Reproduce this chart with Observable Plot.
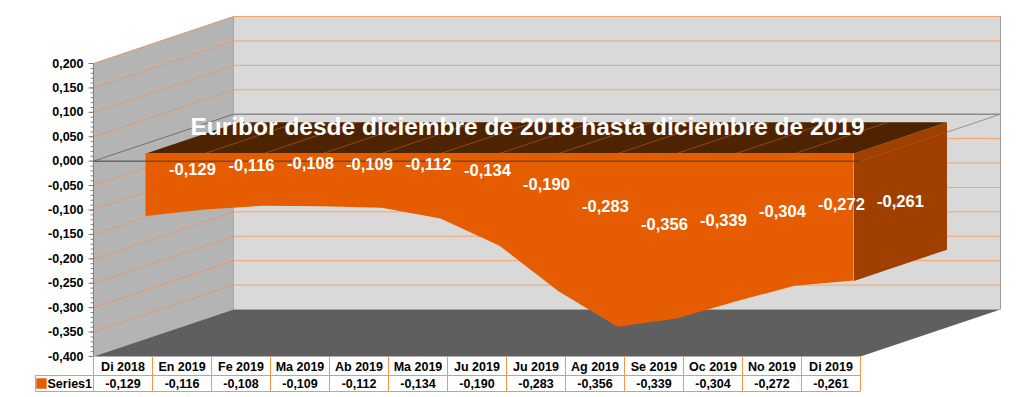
<!DOCTYPE html>
<html>
<head>
<meta charset="utf-8">
<script src="https://cdn.jsdelivr.net/npm/d3@7"></script>
<script src="https://cdn.jsdelivr.net/npm/@observablehq/plot@0.6"></script>
<style>
  html, body { margin: 0; padding: 0; background: #ffffff; }
  #chart svg { display: block; }
</style>
</head>
<body>
<div id="chart"></div>
<script>
// ---- Data ----
const categories = ["Di 2018","En 2019","Fe 2019","Ma 2019","Ab 2019","Ma 2019","Ju 2019","Ju 2019","Ag 2019","Se 2019","Oc 2019","No 2019","Di 2019"];
const values = [-0.129,-0.116,-0.108,-0.109,-0.112,-0.134,-0.190,-0.283,-0.356,-0.339,-0.304,-0.272,-0.261];
const seriesName = "Series1";
const yTicks = [-0.4,-0.35,-0.3,-0.25,-0.2,-0.15,-0.1,-0.05,0,0.05,0.1,0.15,0.2];
const yMinorTicks = d3.range(-40, 21).map(k => k / 100);
const titleText = "Euribor desde diciembre de 2018 hasta diciembre de 2019";

// ---- Geometry (3D oblique projection expressed in data units) ----
const W = 1024, H = 397;
const xDomain = [-0.5, categories.length - 0.5];
const yDomain = [-0.4, 0.2];
const xRange = [93, 860], yRange = [356, 63];
const pxX = (xRange[1] - xRange[0]) / (xDomain[1] - xDomain[0]); // px per category
const pxY = (yRange[0] - yRange[1]) / (yDomain[1] - yDomain[0]); // px per unit
const DX = 140 / pxX, DY = 47 / pxY;       // full depth offset
const dF = 23 / 140, dB = 116 / 140, dM = (dF + dB) / 2;
const P = (i, v, d) => ({x: i + d * DX, y: v + d * DY});
const fmt = v => v.toFixed(3).replace(".", ",");
const last = values.length - 1;
const x0 = xDomain[0], x1 = xDomain[1], yLo = yDomain[0], yHi = yDomain[1];

function poly(pts, fill, extra = {}) {
  return Plot.line(pts, {x: "x", y: "y", fill, stroke: "none", curve: "linear-closed", ...extra});
}
function seg(a, b, stroke, w = 1, extra = {}) {
  return Plot.link([{a, b}], {x1: d => d.a.x, y1: d => d.a.y, x2: d => d.b.x, y2: d => d.b.y, stroke, strokeWidth: w, ...extra});
}

const gridVals = yTicks.filter(t => t > yLo);
const rowY1 = yLo - 19 / pxY, rowY2 = yLo - 35 / pxY;
const legendX = x0 - 58 / pxX;

const marks = [
  // walls & floor
  poly([P(x0, yLo, 1), P(x1, yLo, 1), P(x1, yHi, 1), P(x0, yHi, 1)], "#d9d9d9"),
  poly([P(x0, yLo, 0), P(x0, yHi, 0), P(x0, yHi, 1), P(x0, yLo, 1)], "#b4b4b4"),
  // gridlines back wall
  Plot.link(gridVals, {x1: P(x0,0,1).x, x2: P(x1,0,1).x, y1: t => P(0,t,1).y, y2: t => P(0,t,1).y,
    stroke: t => t === 0 ? "#8c8c8c" : "#f2a46a", strokeWidth: t => t === 0 ? 1.5 : 1}),
  // gridlines left wall
  Plot.link(gridVals, {x1: P(x0,0,0).x, x2: P(x0,0,1).x, y1: t => P(0,t,0).y, y2: t => P(0,t,1).y,
    stroke: t => t === 0 ? "#6f6f6f" : "#e39a68", strokeWidth: 1}),
  seg(P(x0, yLo, 1), P(x0, yHi, 1), "#a8a8a8", 1),
  seg(P(x1, yLo, 1), P(x1, yHi, 1), "#9a9a9a", 1),
  poly([P(x0, yLo, 0), P(x1, yLo, 0), P(x1, yLo, 1), P(x0, yLo, 1)], "#5f5f5f"),
  // zero plane edge on the right
  seg(P(x1, 0, 0), P(x1, 0, 1), "#9a9a9a", 0.8),
  // area: right side face
  poly([P(last, 0, dF), P(last, 0, dB), P(last, values[last], dB), P(last, values[last], dF)], "#a04000"),
  // area: top face
  poly([P(0, 0, dF), P(last, 0, dF), P(last, 0, dB), P(0, 0, dB)], "#4e2400"),
  Plot.link(d3.range(1, last), {x1: i => P(i,0,dF).x, x2: i => P(i,0,dB).x, y1: P(0,0,dF).y, y2: P(0,0,dB).y,
    stroke: "#b8621e", strokeWidth: 0.6}),
  // area: front face
  Plot.areaY(values, {x: (d, i) => P(i, 0, dF).x, y1: P(0, 0, dF).y, y2: d => P(0, d, dF).y, fill: "#e65c00"}),
  // zero line on the front plane
  seg(P(x0, 0, 0), P(x1, 0, 0), "#404040", 1),
  seg(P(x1, 0, 0), P(x1, 0, 1), "#b07040", 0.6, {strokeOpacity: 0.6}),
  // y axis
  seg(P(x0, yLo, 0), P(x0, yHi, 0), "#7f7f7f", 1),
  Plot.link(yMinorTicks, {x1: x0 - 3 / pxX, x2: x0, y1: d => d, y2: d => d, stroke: "#7f7f7f", strokeWidth: 1}),
  Plot.link(yTicks, {x1: x0 - 5 / pxX, x2: x0, y1: d => d, y2: d => d, stroke: "#7f7f7f", strokeWidth: 1}),
  Plot.text(yTicks, {x: x0, y: d => d, dx: -10, text: fmt, textAnchor: "end", fontSize: 12.5, fontWeight: "bold", fill: "#000"}),
  // data labels
  Plot.text(values, {x: (d, i) => P(i, 0, dM).x, y: d => P(0, d / 2, dM).y, text: fmt,
    fill: "#ffffff", fontSize: 16.5, fontWeight: "bold"}),
  // title
  Plot.text([titleText], {frameAnchor: "top-left", lineAnchor: "middle", dx: 527, dy: 127, text: d => d, textAnchor: "middle",
    fill: "#ffffff", fontSize: 24.5, fontWeight: "bold"}),
  // data table
  Plot.ruleX(d3.range(0, categories.length + 1).map(i => i - 0.5), {y1: yLo, y2: rowY2, stroke: "#f79646", strokeWidth: 1}),
  Plot.link([rowY1, rowY2], {x1: legendX, x2: x1, y1: d => d, y2: d => d, stroke: "#f79646", strokeWidth: 1}),
  Plot.link([0], {x1: legendX, x2: legendX, y1: rowY1, y2: rowY2, stroke: "#f79646", strokeWidth: 1}),
  Plot.text(categories, {x: (d, i) => i, y: yLo - 10 / pxY, text: d => d, fontSize: 12.5, fontWeight: "bold", fill: "#000"}),
  Plot.text(values, {x: (d, i) => i, y: yLo - 27 / pxY, text: fmt, fontSize: 12.5, fontWeight: "bold", fill: "#000"}),
  Plot.dot([seriesName], {x: legendX + 6 / pxX, y: yLo - 27 / pxY, symbol: "square", r: 5, fill: "#e65c00", stroke: "#e65c00"}),
  Plot.text([seriesName], {x: legendX + 12 / pxX, y: yLo - 27 / pxY, text: d => d, textAnchor: "start", fontSize: 12.5, fontWeight: "bold", fill: "#000"})
];

const chart = Plot.plot({
  width: W, height: H,
  marginTop: 0, marginRight: 0, marginBottom: 0, marginLeft: 0,
  style: {fontFamily: "'Liberation Sans', Arial, sans-serif", background: "#ffffff", overflow: "visible"},
  x: {type: "linear", domain: xDomain, range: xRange, axis: null},
  y: {type: "linear", domain: yDomain, range: yRange, axis: null},
  marks
});
document.getElementById("chart").appendChild(chart);
</script>
</body>
</html>
